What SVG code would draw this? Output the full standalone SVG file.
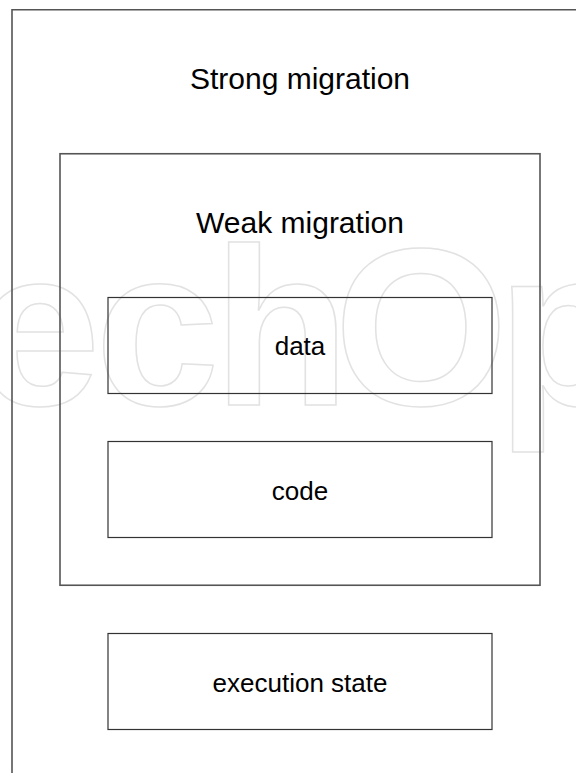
<svg xmlns="http://www.w3.org/2000/svg" width="576" height="773" viewBox="0 0 576 773">
  <style>
    .frame { fill: none; stroke: #555555; stroke-width: 1.6; }
    .box { fill: none; stroke: #333333; stroke-width: 1.2; }
    .title { font-family: "Liberation Sans", Arial, sans-serif; font-size: 30px; fill: #000; text-anchor: middle; }
    .label { font-family: "Liberation Sans", Arial, sans-serif; font-size: 26px; fill: #000; text-anchor: middle; }
    .mark { font-family: "Liberation Sans", Arial, sans-serif; font-weight: bold; font-size: 224px; fill: none; stroke: #e2e2e2; stroke-width: 1.5; }
  </style>
  <rect width="576" height="773" fill="#ffffff"/>

  <!-- faint publisher watermark behind the boxes -->
  <text class="mark" y="405" x="-24 95 213 334 497">echOp</text>

  <g id="strong-migration">
    <path class="frame" d="M12,773 V9.75 H576"/>
    <text class="title" x="300" y="89">Strong migration</text>
  </g>

  <g id="weak-migration">
    <rect class="frame" x="60" y="153.75" width="480" height="431.5"/>
    <text class="title" x="300" y="233">Weak migration</text>
  </g>

  <g id="data">
    <rect class="box" x="108" y="297.5" width="384" height="96"/>
    <text class="label" x="300" y="355">data</text>
  </g>

  <g id="code">
    <rect class="box" x="108" y="441.5" width="384" height="96"/>
    <text class="label" x="300" y="500">code</text>
  </g>

  <g id="execution-state">
    <rect class="box" x="108" y="633.5" width="384" height="96"/>
    <text class="label" x="300" y="692">execution state</text>
  </g>

  <g id="connectors"/>
</svg>
